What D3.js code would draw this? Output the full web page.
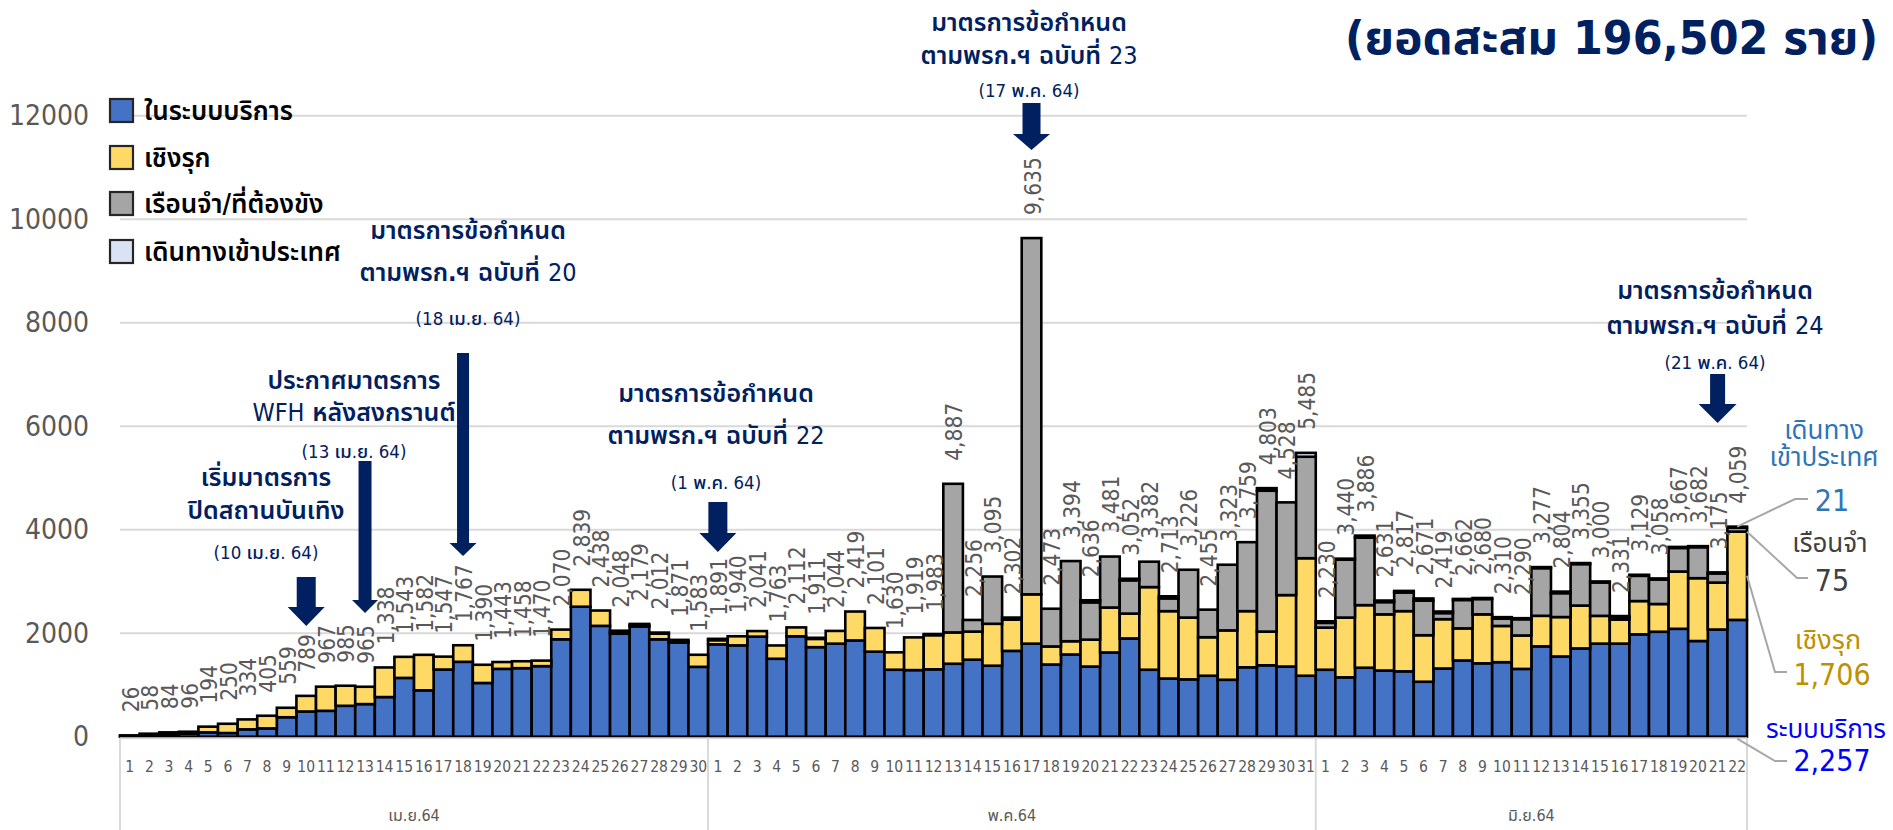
<!DOCTYPE html>
<html><head><meta charset="utf-8">
<script src="https://cdn.jsdelivr.net/npm/d3@7"></script>
<style>body{margin:0;background:#fff;} svg{display:block;}</style>
</head><body><svg id="c" width="1893" height="830"></svg>
<script>
// ---------- data ----------
const months = ["เม.ย.64", "พ.ค.64", "มิ.ย.64"];
const aprDays = [1,2,3,4,5,6,7,8,9,10,11,12,13,14,15,16,17,18,19,20,21,22,23,24,25,26,27,28,29,30];
const mayDays = [1,2,3,4,5,6,7,8,9,10,11,12,13,14,15,16,17,18,19,20,21,22,23,24,25,26,27,28,29,30,31];
const junDays = [1,2,3,4,5,6,7,8,9,10,11,12,13,14,15,16,17,18,19,20,21,22];

const seriesNames = ["ในระบบบริการ", "เชิงรุก", "เรือนจำ/ที่ต้องขัง", "เดินทางเข้าประเทศ"];

// ในระบบบริการ
const hospital = [
  12,30,50,60,84,71,142,161,376,487,500,597,630,766,1136,896,1298,1447,1038,1311,1324,1363,1882,2512,2142,1990,2129,1882,1817,1350,
  1785,1765,1934,1506,1940,1730,1798,1860,1643,1294,1287,1302,1410,1488,1372,1658,1798,1395,1589,1356,1628,1899,1294,1124,1108,1178,1100,1341,1380,1356,1178,
  1294,1147,1333,1279,1263,1062,1318,1473,1418,1440,1310,1746,1550,1706,1799,1799,1978,2028,2085,1849,2071,2257
];
// เชิงรุก
const active = [
  14,28,34,36,110,179,192,244,183,302,467,388,335,572,407,686,249,320,352,132,134,107,188,327,296,40,20,110,20,233,
  80,175,107,257,172,160,246,559,458,336,632,660,605,543,810,604,953,349,256,519,868,480,1597,1302,1194,744,954,1085,651,1380,2271,
  814,1155,1209,1085,1163,899,953,620,946,700,646,590,762,828,536,464,643,536,1107,1214,907,1706
];
// เรือนจำ/ที่ต้องขัง
const prison = [
  0,0,0,0,0,0,0,0,0,0,0,0,0,0,0,0,0,0,0,0,0,0,0,0,0,18,30,20,34,0,
  26,0,0,0,0,21,0,0,0,0,0,21,2872,225,913,40,6884,729,1549,721,985,643,491,247,924,533,1269,1333,2722,1792,1961,
  92,1118,1304,237,361,670,118,549,296,140,314,921,462,801,645,48,488,474,455,599,177,75
];
// เดินทางเข้าประเทศ
const travel = [
  0,0,0,0,0,0,0,0,0,0,0,0,0,0,0,0,0,0,0,0,0,0,0,0,0,0,0,0,0,0,
  0,0,0,0,0,0,0,0,0,0,0,0,0,0,0,0,0,0,0,40,0,30,0,40,0,0,0,0,50,0,75,
  30,20,40,30,30,40,30,20,20,30,20,20,30,20,20,20,20,20,20,20,20,21
];
// daily totals (labels)
const totals = [
  26,58,84,96,194,250,334,405,559,789,967,985,965,1338,1543,1582,1547,1767,1390,1443,1458,1470,2070,2839,2438,2048,2179,2012,1871,1583,
  1891,1940,2041,1763,2112,1911,2044,2419,2101,1630,1919,1983,4887,2256,3095,2302,9635,2473,3394,2636,3481,3052,3382,2713,3226,2455,3323,3759,4803,4528,5485,
  2230,3440,3886,2631,2817,2671,2419,2662,2680,2310,2290,3277,2804,3355,3000,2331,3129,3058,3667,3682,3175,4059
];
const yTicks = [0, 2000, 4000, 6000, 8000, 10000, 12000];
const titleText = "(ยอดสะสม 196,502 ราย)";
const lastDay = {travel: "21", prison: "75", active: "1,706", hospital: "2,257"};

// ---------- setup ----------
const svg = d3.select("#c");
const FONT = "'DejaVu Sans Condensed','DejaVu Sans','Noto Sans Thai',Tahoma,sans-serif";
const colors = ["#4472C4", "#FFD966", "#A5A5A5", "#DAE3F3"];
const navy = "#002060";

const monthDays = [aprDays, mayDays, junDays];
const cats = [];
monthDays.forEach((arr, mi) => arr.forEach(d => cats.push({m: mi, d})));
const keys = cats.map((c, i) => i);

const x = d3.scaleBand().domain(keys).range([120, 1747]).padding(0);
const y = d3.scaleLinear().domain([0, 12000]).range([736.7, 115.7]);
const bw = x.bandwidth();

// gridlines
svg.append("g").selectAll("line").data(yTicks.filter(t => t > 0)).join("line")
  .attr("x1", 120).attr("x2", 1747).attr("y1", d => y(d)).attr("y2", d => y(d))
  .attr("stroke", "#D9D9D9").attr("stroke-width", 2);

// y tick labels
svg.append("g").selectAll("text").data(yTicks).join("text")
  .attr("x", 89).attr("y", d => y(d)).attr("text-anchor", "end").attr("dominant-baseline", "central")
  .attr("font-family", FONT).attr("font-size", 28).attr("fill", "#595959").text(d => d);

// stacked bars
const stackData = keys.map(i => ({i, s0: hospital[i], s1: active[i], s2: prison[i], s3: travel[i]}));
const stack = d3.stack().keys(["s0", "s1", "s2", "s3"]);
const layers = stack(stackData);
const gBars = svg.append("g");
layers.forEach((layer, li) => {
  gBars.append("g").selectAll("rect").data(layer.filter(d => d[1] - d[0] > 0)).join("rect")
    .attr("x", d => x(d.data.i)).attr("width", bw)
    .attr("y", d => y(d[1])).attr("height", d => y(d[0]) - y(d[1]))
    .attr("fill", colors[li]).attr("stroke", "#000").attr("stroke-width", 2.6);
});

// axis baseline and category separators
svg.append("line").attr("x1", 120).attr("x2", 1747).attr("y1", y(0) + 1.5).attr("y2", y(0) + 1.5)
  .attr("stroke", "#D9D9D9").attr("stroke-width", 2);
let acc = 0;
const sepIdx = [0];
monthDays.forEach(a => { acc += a.length; sepIdx.push(acc); });
const sepX = d => d < keys.length ? x(d) : x(keys.length - 1) + bw;
svg.append("g").selectAll("line").data(sepIdx).join("line")
  .attr("x1", sepX).attr("x2", sepX)
  .attr("y1", y(0) + 1).attr("y2", 830).attr("stroke", "#D9D9D9").attr("stroke-width", 2);

// day labels
svg.append("g").selectAll("text").data(cats).join("text")
  .attr("x", (d, i) => x(i) + bw / 2).attr("y", 767).attr("text-anchor", "middle").attr("dominant-baseline", "central")
  .attr("font-family", FONT).attr("font-size", 15.5).attr("fill", "#595959").text(d => d.d);
// month labels
svg.append("g").selectAll("text").data(months).join("text")
  .attr("x", (d, mi) => (sepX(sepIdx[mi]) + sepX(sepIdx[mi + 1])) / 2)
  .attr("y", 815).attr("text-anchor", "middle").attr("dominant-baseline", "central")
  .attr("font-family", FONT).attr("font-size", 16).attr("fill", "#595959").text(d => d);

// total labels (rotated)
svg.append("g").selectAll("text").data(totals).join("text")
  .attr("transform", (d, i) => `translate(${x(i) + bw / 2 + 1},${y(d) - 23}) rotate(-90)`)
  .attr("text-anchor", "start").attr("dominant-baseline", "central")
  .attr("font-family", FONT).attr("font-size", 22.5).attr("fill", "#595959")
  .text(d => d3.format(",")(d));

// legend
const legY = [111, 158, 204, 252];
const leg = svg.append("g");
seriesNames.forEach((n, i) => {
  leg.append("rect").attr("x", 110).attr("y", legY[i] - 12).attr("width", 23).attr("height", 23)
    .attr("fill", colors[i]).attr("stroke", "#262626").attr("stroke-width", 2.2);
  leg.append("text").attr("x", 144).attr("y", legY[i]).attr("dominant-baseline", "central")
    .attr("font-family", FONT).attr("font-size", 26).attr("font-weight", 600).attr("fill", "#000").text(n);
});

// annotations
const notes = [
  {day: 9, lines: ["เริ่มมาตรการ", "ปิดสถานบันเทิง"], date: "(10 เม.ย. 64)", cx: 266, ly: [477, 510], dy: 552,
   arrow: {sw: 19, hw: 37, top: 577, hs: 607, tip: 626}},
  {day: 12, lines: ["ประกาศมาตรการ", "WFH หลังสงกรานต์"], date: "(13 เม.ย. 64)", cx: 354, ly: [380, 412], dy: 451,
   arrow: {sw: 13, hw: 26, top: 461, hs: 600, tip: 613}},
  {day: 17, lines: ["มาตรการข้อกำหนด", "ตามพรก.ฯ ฉบับที่ 20"], date: "(18 เม.ย. 64)", cx: 468, ly: [230, 272], dy: 318,
   arrow: {sw: 12, hw: 27, top: 353, hs: 543, tip: 556}},
  {day: 30, lines: ["มาตรการข้อกำหนด", "ตามพรก.ฯ ฉบับที่ 22"], date: "(1 พ.ค. 64)", cx: 716, ly: [393, 435], dy: 482,
   arrow: {sw: 19, hw: 37, top: 502, hs: 533, tip: 552}},
  {day: 46, lines: ["มาตรการข้อกำหนด", "ตามพรก.ฯ ฉบับที่ 23"], date: "(17 พ.ค. 64)", cx: 1029, ly: [22, 55], dy: 90,
   arrow: {sw: 18, hw: 37, top: 103, hs: 134, tip: 150}},
  {day: 81, lines: ["มาตรการข้อกำหนด", "ตามพรก.ฯ ฉบับที่ 24"], date: "(21 พ.ค. 64)", cx: 1715, ly: [290, 325], dy: 362,
   arrow: {sw: 15, hw: 38, top: 374, hs: 404, tip: 423}},
];
const gN = svg.append("g");
notes.forEach(n => {
  n.lines.forEach((t, k) => {
    const txt = gN.append("text").attr("x", n.cx).attr("y", n.ly[k]).attr("text-anchor", "middle").attr("dominant-baseline", "central")
      .attr("font-family", FONT).attr("font-size", 25).attr("fill", navy);
    t.split(/([A-Za-z0-9]+)/).filter(s => s.length).forEach(s => {
      txt.append("tspan").attr("font-weight", /^[A-Za-z0-9]+$/.test(s) ? 500 : 600).text(s);
    });
  });
  gN.append("text").attr("x", n.cx).attr("y", n.dy).attr("text-anchor", "middle").attr("dominant-baseline", "central")
    .attr("font-family", FONT).attr("font-size", 18.5).attr("font-weight", 500).attr("fill", navy).text(n.date);
  const cx = x(n.day) + bw / 2, a = n.arrow;
  const p = d3.path();
  p.moveTo(cx - a.sw / 2, a.top); p.lineTo(cx + a.sw / 2, a.top); p.lineTo(cx + a.sw / 2, a.hs);
  p.lineTo(cx + a.hw / 2, a.hs); p.lineTo(cx, a.tip); p.lineTo(cx - a.hw / 2, a.hs);
  p.lineTo(cx - a.sw / 2, a.hs); p.closePath();
  gN.append("path").attr("d", p.toString()).attr("fill", navy);
});

// title
svg.append("text").attr("x", 1878).attr("y", 38).attr("text-anchor", "end").attr("dominant-baseline", "central")
  .attr("font-family", FONT).attr("font-size", 46).attr("font-weight", "bold").attr("fill", navy)
  .attr("textLength", 533).attr("lengthAdjust", "spacingAndGlyphs").text(titleText);

// right-side callouts for last day
const li = keys.length - 1;
const bx = x(li), bR = x(li) + bw;
const t = totals[li];
const leaders = [
  [[bx + bw / 2, y(t)], [1795, 499], [1808, 499]],
  [[bR, y(t - travel[li] - prison[li] / 2) + 2], [1797, 578], [1808, 578]],
  [[bR, y(hospital[li] + active[li] / 2)], [1775, 672], [1787, 672]],
  [[bx + bw / 2, y(0) + 2], [1775, 761], [1787, 761]],
];
svg.append("g").selectAll("path").data(leaders).join("path")
  .attr("d", d => d3.line()(d)).attr("fill", "none").attr("stroke", "#A6A6A6").attr("stroke-width", 2);

const callouts = [
  {t: "เดินทาง", x: 1824, y: 430, c: "#2E75B6", s: 26},
  {t: "เข้าประเทศ", x: 1824, y: 457, c: "#2E75B6", s: 26},
  {t: lastDay.travel, x: 1832, y: 500, c: "#2E75B6", s: 30},
  {t: "เรือนจำ", x: 1830, y: 543, c: "#404040", s: 26},
  {t: lastDay.prison, x: 1832, y: 580, c: "#404040", s: 30},
  {t: "เชิงรุก", x: 1828, y: 639, c: "#BF9000", s: 27},
  {t: lastDay.active, x: 1832, y: 674, c: "#BF9000", s: 30},
  {t: "ระบบบริการ", x: 1826, y: 729, c: "#0000FF", s: 26},
  {t: lastDay.hospital, x: 1832, y: 760, c: "#0000FF", s: 30},
];
svg.append("g").selectAll("text").data(callouts).join("text")
  .attr("x", d => d.x).attr("y", d => d.y).attr("text-anchor", "middle").attr("dominant-baseline", "central")
  .attr("font-family", FONT).attr("font-size", d => d.s).attr("fill", d => d.c).text(d => d.t);
</script>
</body></html>
